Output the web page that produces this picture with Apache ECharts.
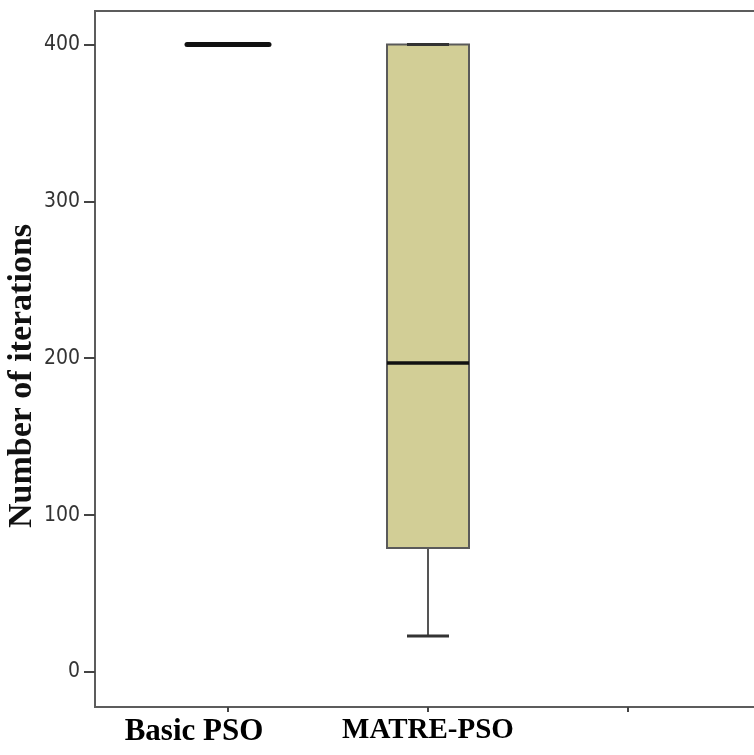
<!DOCTYPE html>
<html>
<head>
<meta charset="utf-8">
<script src="https://cdn.jsdelivr.net/npm/echarts@6/dist/echarts.min.js"></script>
<style>
  html, body { margin: 0; padding: 0; background: #fff; }
  #chart { width: 754px; height: 755px; }
</style>
</head>
<body>
<div id="chart"></div>
<script>
// ---- data ----
const categories = ['Basic PSO', 'MATRE-PSO', ''];
const minVals    = [400, 23];
const q1Vals     = [400, 79];
const medianVals = [400, 197];
const q3Vals     = [400, 400];
const maxVals    = [400, 400];
const yTickValues = [0, 100, 200, 300, 400];
const yMin = -22.3;
const yMax = 421.3;
const yTitle = 'Number of iterations';

const boxData = minVals.map((v, i) => [i, minVals[i], q1Vals[i], medianVals[i], q3Vals[i], maxVals[i]]);

const chart = echarts.init(document.getElementById('chart'), null, { renderer: 'canvas' });

function renderBox(params, api) {
  const x = api.value(0);
  const pMin = api.coord([x, api.value(1)]);
  const pQ1 = api.coord([x, api.value(2)]);
  const pMed = api.coord([x, api.value(3)]);
  const pQ3 = api.coord([x, api.value(4)]);
  const pMax = api.coord([x, api.value(5)]);
  const band = api.size([1, 0])[0];
  const half = band * 0.205;
  const capHalf = band * 0.105;
  const cx = pMed[0];
  const children = [];
  children.push({ type: 'line', shape: { x1: cx, y1: pQ1[1], x2: cx, y2: pMin[1] },
    style: { stroke: '#555', lineWidth: 2 } });
  children.push({ type: 'line', shape: { x1: cx, y1: pQ3[1], x2: cx, y2: pMax[1] },
    style: { stroke: '#555', lineWidth: 2 } });
  children.push({ type: 'rect', shape: { x: cx - half, y: pQ3[1], width: half * 2, height: pQ1[1] - pQ3[1] },
    style: { fill: '#d2ce96', stroke: '#5a5a5a', lineWidth: 2 } });
  children.push({ type: 'line', shape: { x1: cx - capHalf, y1: pMin[1], x2: cx + capHalf, y2: pMin[1] },
    style: { stroke: '#333', lineWidth: 3 } });
  children.push({ type: 'line', shape: { x1: cx - capHalf, y1: pMax[1], x2: cx + capHalf, y2: pMax[1] },
    style: { stroke: '#333', lineWidth: 3 } });
  const flat = Math.abs(pQ1[1] - pQ3[1]) < 1;
  children.push({ type: 'line', shape: { x1: cx - half, y1: pMed[1], x2: cx + half, y2: pMed[1] },
    style: { stroke: '#111', lineWidth: flat ? 5 : 3.5, lineCap: flat ? 'round' : 'butt' } });
  return { type: 'group', children: children };
}

const option = {
  animation: false,
  backgroundColor: '#fff',
  grid: [
    { left: 95, top: 11, bottom: 48, right: -20, show: true, borderColor: '#5c5c5c', borderWidth: 2,
      containLabel: false, outerBoundsMode: 'none' },
    { left: 128, top: 11, bottom: 48, width: 600, containLabel: false, outerBoundsMode: 'none' }
  ],
  xAxis: [
    { gridIndex: 0, type: 'value', min: 0, max: 1, show: false },
    {
      gridIndex: 1, type: 'category', data: categories, boundaryGap: true, position: 'bottom',
      axisLine: { show: false, onZero: false },
      axisTick: { show: true, alignWithLabel: true, length: 5, lineStyle: { color: '#444', width: 2 } },
      splitLine: { show: false },
      axisLabel: {
        margin: 9,
        interval: 0,
        formatter: function (v) {
          if (v === 'Basic PSO') return '{a|' + v + '}';
          if (v === '') return '';
          return '{b|' + v + '}';
        },
        rich: {
          a: { fontFamily: 'Liberation Serif', fontWeight: 'bold', fontSize: 31, color: '#000', padding: [0, 68, 0, 0] },
          b: { fontFamily: 'Liberation Serif', fontWeight: 'bold', fontSize: 29, color: '#000' }
        }
      }
    }
  ],
  yAxis: [
    {
      gridIndex: 0, type: 'value', min: yMin, max: yMax,
      name: yTitle, nameLocation: 'middle', nameRotate: 90, nameGap: 56, nameMoveOverlap: false,
      nameTextStyle: { fontFamily: 'Liberation Serif', fontWeight: 'bold', fontSize: 34, color: '#111', padding: [0, 34, 0, 0] },
      axisLine: { show: true, lineStyle: { color: '#5c5c5c', width: 2 } },
      axisTick: { show: true, length: 11, customValues: yTickValues, lineStyle: { color: '#444', width: 2 } },
      axisLabel: { show: true, customValues: yTickValues, margin: 15,
        fontFamily: '"Liberation Sans Narrow", "Arial Narrow", "DejaVu Sans Condensed", "Roboto Condensed", "Liberation Sans"',
        fontSize: 21, color: '#333' },
      splitLine: { show: false }
    },
    { gridIndex: 1, type: 'value', min: yMin, max: yMax, show: false }
  ],
  series: [
    {
      type: 'custom',
      xAxisIndex: 1, yAxisIndex: 1,
      renderItem: renderBox,
      encode: { x: 0, y: [1, 2, 3, 4, 5] },
      data: boxData,
      clip: false
    }
  ]
};

chart.setOption(option);
</script>
</body>
</html>
